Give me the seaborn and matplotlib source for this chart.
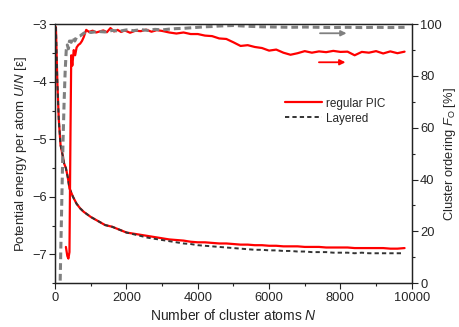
import numpy as np
import pandas as pd
import matplotlib
matplotlib.use("Agg")
import matplotlib.pyplot as plt
import seaborn as sns
from matplotlib.ticker import MultipleLocator

# energy per atom, regular PIC (left axis)
n_pic_e = [20, 60, 100, 150, 200, 250, 300, 350, 400, 500, 600, 700, 800, 1000, 1200, 1400, 1600, 1800,
           2000, 2200, 2400, 2600, 2800, 3000, 3200, 3400, 3600, 3800, 4000, 4200, 4400, 4600, 4800,
           5000, 5200, 5400, 5600, 5800, 6000, 6200, 6400, 6600, 6800, 7000, 7200, 7400, 7600, 7800,
           8000, 8200, 8400, 8600, 8800, 9000, 9200, 9400, 9600, 9800]
e_pic = [-3.05, -4.0, -4.65, -5.1, -5.25, -5.42, -5.5, -5.65, -5.85, -6.0, -6.12, -6.2, -6.26, -6.35,
         -6.42, -6.49, -6.52, -6.57, -6.62, -6.64, -6.66, -6.68, -6.70, -6.72, -6.74, -6.75, -6.76,
         -6.78, -6.79, -6.79, -6.80, -6.81, -6.81, -6.82, -6.83, -6.83, -6.84, -6.84, -6.85, -6.85,
         -6.86, -6.86, -6.86, -6.87, -6.87, -6.87, -6.88, -6.88, -6.88, -6.88, -6.89, -6.89, -6.89,
         -6.89, -6.89, -6.90, -6.90, -6.89]

# energy per atom, layered
n_lay_e = [20, 60, 100, 150, 200, 250, 300, 350, 400, 500, 600, 700, 800, 1000, 1200, 1400, 1600, 1800,
           2000, 2200, 2400, 2600, 2800, 3000, 3200, 3400, 3600, 3800, 4000, 4200, 4400, 4600, 4800,
           5000, 5200, 5400, 5600, 5800, 6000, 6200, 6400, 6600, 6800, 7000, 7200, 7400, 7600, 7800,
           8000, 8200, 8400, 8600, 8800, 9000, 9200, 9400, 9600, 9700]
e_lay = [-3.05, -4.0, -4.65, -5.1, -5.25, -5.42, -5.5, -5.65, -5.85, -6.0, -6.12, -6.2, -6.26, -6.35,
         -6.42, -6.49, -6.52, -6.57, -6.62, -6.65, -6.68, -6.71, -6.73, -6.75, -6.77, -6.79, -6.81,
         -6.82, -6.84, -6.85, -6.86, -6.87, -6.88, -6.89, -6.90, -6.91, -6.92, -6.92, -6.93, -6.93,
         -6.94, -6.94, -6.95, -6.95, -6.96, -6.96, -6.96, -6.97, -6.97, -6.97, -6.98, -6.97, -6.98,
         -6.98, -6.98, -6.98, -6.98, -6.98]

# cluster ordering, regular PIC (right axis)
n_pic_o = [300, 340, 370, 400, 430, 450, 480, 520, 560, 600, 650, 700, 750, 800, 870, 950, 1050, 1150,
           1250, 1350, 1450, 1550, 1650, 1750, 1850, 1950, 2100, 2250, 2400, 2550, 2700, 2850, 3000,
           3200, 3400, 3600, 3800, 4000, 4200, 4400, 4600, 4800, 5000, 5200, 5400, 5600, 5800, 6000,
           6200, 6400, 6600, 6800, 7000, 7200, 7400, 7600, 7800, 8000, 8200, 8400, 8600, 8800, 9000,
           9200, 9400, 9600, 9800]
o_pic = [14, 10.5, 9.5, 12, 60, 88, 84, 90, 88, 91, 92, 92.5, 93.5, 95, 97.8, 97, 97.5, 96.8, 97.2,
         97.6, 96.9, 98.5, 97.2, 97.8, 97.0, 97.6, 96.7, 97.5, 97.3, 97.9, 97.1, 97.7, 97.4, 96.8,
         96.4, 96.8, 96.2, 96.2, 95.6, 95.4, 94.5, 94.3, 93.0, 91.6, 91.9, 91.2, 90.8, 89.8, 90.2,
         89.0, 88.2, 88.8, 89.6, 89.0, 89.5, 89.2, 89.7, 89.3, 89.4, 88.0, 89.3, 89.0, 89.6, 88.7,
         89.5, 88.8, 89.4]

# cluster ordering, layered
n_lay_o = [140, 160, 190, 220, 250, 280, 310, 340, 370, 400, 450, 500, 550, 600, 700, 800, 900, 1000,
           1200, 1400, 1600, 1800, 2000, 2200, 2400, 2600, 2800, 3000, 3200, 3400, 3600, 3800, 4000,
           4200, 4400, 4600, 4800, 5000, 5400, 5800, 6200, 6600, 7000, 7400, 7800, 8200, 8600, 9000,
           9400, 9800]
o_lay = [1, 15, 35, 55, 70, 82, 90, 92, 90.5, 93.5, 93, 95, 93.5, 95, 95.5, 96.5, 97.2, 96.8, 97.2,
         97.0, 97.6, 97.3, 97.8, 97.5, 97.9, 97.6, 98.0, 97.8, 98.1, 98.3, 98.4, 98.6, 98.8, 99.0,
         99.1, 99.3, 99.4, 99.5, 99.2, 99.0, 98.9, 98.8, 98.9, 98.8, 98.7, 98.8, 98.7, 98.8, 98.7, 98.8]

sns.set_style("ticks")
plt.rcParams['font.family'] = ['Liberation Sans', 'DejaVu Sans']
plt.rcParams['mathtext.fontset'] = 'custom'
plt.rcParams['mathtext.it'] = 'Liberation Sans:italic'
plt.rcParams['mathtext.rm'] = 'Liberation Sans'

fig = plt.figure(figsize=(4.6, 3.27), dpi=100)
ax = fig.add_axes([0.12, 0.134, 0.775, 0.792])
ax2 = ax.twinx()

sns.lineplot(x=n_pic_e, y=e_pic, ax=ax, color="#ff0000", lw=1.6, label="regular PIC")
sns.lineplot(x=n_lay_e, y=e_lay, ax=ax, color="#333333", lw=1.4, label="Layered")
ax.lines[1].set_dashes((2.2, 1.6))

sns.lineplot(x=n_pic_o, y=o_pic, ax=ax2, color="#ff0000", lw=1.6)
sns.lineplot(x=n_lay_o, y=o_lay, ax=ax2, color="#808080", lw=2.2)
ax2.lines[1].set_dashes((2.2, 1.3))

ax.set_xlim(0, 10000)
ax.set_ylim(-7.5, -3)
ax2.set_ylim(0, 100)
ax.xaxis.set_major_locator(MultipleLocator(2000))
ax.xaxis.set_minor_locator(MultipleLocator(1000))
ax.yaxis.set_major_locator(MultipleLocator(1))
ax.yaxis.set_minor_locator(MultipleLocator(0.5))
ax2.yaxis.set_major_locator(MultipleLocator(20))
ax2.yaxis.set_minor_locator(MultipleLocator(10))

for a in (ax, ax2):
    a.tick_params(which='major', length=4, width=0.8, labelsize=9.3, color='#222222', pad=2)
    a.tick_params(which='minor', length=2, width=0.8, color='#222222')
    for s in a.spines.values():
        s.set_linewidth(0.9)
        s.set_color('#222222')

ax.set_xlabel("Number of cluster atoms $\\it{N}$", fontsize=10, labelpad=3)
ax.set_ylabel("Potential energy per atom $\\it{U/N}$ [ε]", fontsize=9.5, labelpad=2)
ax2.set_ylabel("Cluster ordering $\\it{F}_{\\mathrm{O}}$ [%]", fontsize=9.3, labelpad=0)

ax2.annotate("", xy=(0.825, 0.965), xytext=(0.735, 0.965), xycoords='axes fraction',
             arrowprops=dict(arrowstyle="-|>", color="#808080", lw=1.3, mutation_scale=8))
ax2.annotate("", xy=(0.822, 0.853), xytext=(0.732, 0.853), xycoords='axes fraction',
             arrowprops=dict(arrowstyle="-|>", color="#ff0000", lw=1.3, mutation_scale=8))

ax.legend(loc='upper left', bbox_to_anchor=(0.63, 0.735), frameon=False, fontsize=8.5,
          handlelength=3.2, handletextpad=0.3, labelspacing=0.25, borderaxespad=0)

fig.savefig("out.png", dpi=100)
